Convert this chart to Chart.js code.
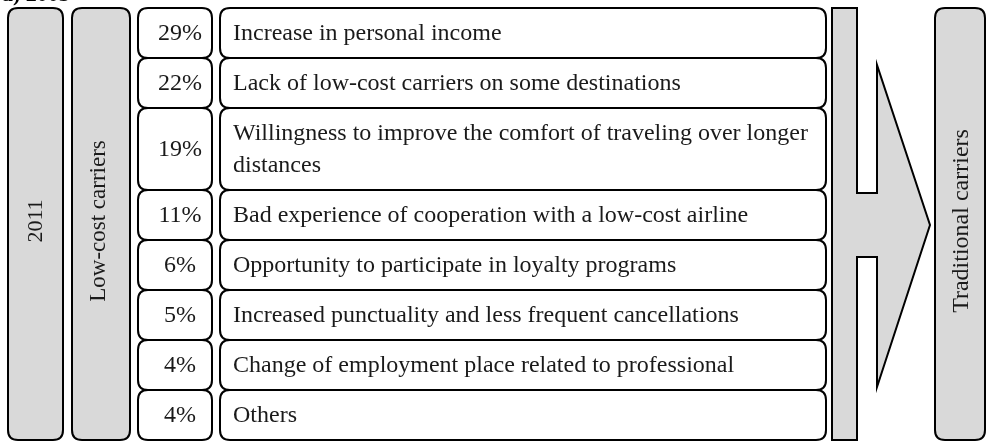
<!DOCTYPE html>
<html lang="en">
<head>
  <meta charset="UTF-8" />
  <title>Reasons for switching from low-cost to traditional carriers</title>
  <script src="https://cdn.jsdelivr.net/npm/chart.js"></script>
  <style>
    body { margin: 0; background: #fff; }
    #wrap { width: 989px; height: 443px; position: relative; }
  </style>
</head>
<body>
  <div id="wrap"><canvas id="diagram"></canvas></div>

  <script>
    // data
    const panelTitle = "a) 2005";
    const yearLabel = "2011";
    const fromLabel = "Low-cost carriers";
    const toLabel = "Traditional carriers";
    const shares = [29, 22, 19, 11, 6, 5, 4, 4];
    const reasons = [
      "Increase in personal income",
      "Lack of low-cost carriers on some destinations",
      "Willingness to improve the comfort of traveling over longer\ndistances",
      "Bad experience of cooperation with a low-cost airline",
      "Opportunity to participate in loyalty programs",
      "Increased punctuality and less frequent cancellations",
      "Change of employment place related to professional",
      "Others"
    ];

    const FONT = '"Liberation Serif", "Times New Roman", serif';
    const GREY = "#d9d9d9";
    const INK = "#1a1a1a";

    function roundBox(ctx, x0, y0, x1, y1, r, fill) {
      ctx.beginPath();
      ctx.moveTo(x0 + r, y0);
      ctx.lineTo(x1 - r, y0);
      ctx.quadraticCurveTo(x1, y0, x1, y0 + r);
      ctx.lineTo(x1, y1 - r);
      ctx.quadraticCurveTo(x1, y1, x1 - r, y1);
      ctx.lineTo(x0 + r, y1);
      ctx.quadraticCurveTo(x0, y1, x0, y1 - r);
      ctx.lineTo(x0, y0 + r);
      ctx.quadraticCurveTo(x0, y0, x0 + r, y0);
      ctx.closePath();
      ctx.fillStyle = fill;
      ctx.fill();
      ctx.stroke();
    }

    function upText(ctx, txt, x, y) {
      ctx.save();
      ctx.translate(x, y);
      ctx.rotate(-Math.PI / 2);
      ctx.textAlign = "center";
      ctx.textBaseline = "middle";
      ctx.fillText(txt, 0, 0);
      ctx.restore();
    }

    const diagramPlugin = {
      id: "diagram",
      afterDraw(chart) {
        const ctx = chart.ctx;
        const X = v => chart.scales.x.getPixelForValue(v);
        const Y = v => chart.scales.y.getPixelForValue(v);
        const top = 8, bottom = 440;

        ctx.save();
        ctx.strokeStyle = "#000";
        ctx.lineWidth = 2;

        // heading, cut off by the top edge
        ctx.font = "bold 22px " + FONT;
        ctx.fillStyle = "#000";
        ctx.textBaseline = "alphabetic";
        ctx.fillText(panelTitle, X(2), Y(1));

        // side columns
        roundBox(ctx, X(8), Y(top), X(63), Y(bottom), 10, GREY);
        roundBox(ctx, X(72), Y(top), X(130), Y(bottom), 10, GREY);
        roundBox(ctx, X(935), Y(top), X(985), Y(bottom), 10, GREY);

        ctx.fillStyle = INK;
        ctx.font = "22px " + FONT;
        upText(ctx, yearLabel, X(36), Y(221));
        ctx.font = "23px " + FONT;
        upText(ctx, fromLabel, X(99), Y(221));
        ctx.font = "24px " + FONT;
        upText(ctx, toLabel, X(962), Y(221));

        // rows
        let y = top;
        shares.forEach((s, i) => {
          const lines = reasons[i].split("\n");
          const h = 50 + (lines.length - 1) * 32;
          roundBox(ctx, X(138), Y(y), X(212), Y(y + h), 10, "#fff");
          roundBox(ctx, X(220), Y(y), X(826), Y(y + h), 10, "#fff");
          const mid = y + h / 2;
          ctx.fillStyle = INK;
          ctx.textBaseline = "middle";
          ctx.textAlign = "center";
          ctx.fillText(s + "%", X(180), Y(mid + 1));
          ctx.textAlign = "left";
          lines.forEach((ln, k) => {
            ctx.fillText(ln, X(233), Y(mid + 1 + (k - (lines.length - 1) / 2) * 32));
          });
          y += h;
        });

        // arrow
        ctx.beginPath();
        [[832, top], [857, top], [857, 193], [877, 193], [877, 65], [930, 225],
         [877, 387], [877, 257], [857, 257], [857, bottom], [832, bottom]]
          .forEach(([px, py], k) => k ? ctx.lineTo(X(px), Y(py)) : ctx.moveTo(X(px), Y(py)));
        ctx.closePath();
        ctx.fillStyle = GREY;
        ctx.fill();
        ctx.stroke();

        ctx.restore();
      }
    };

    new Chart(document.getElementById("diagram"), {
      type: "scatter",
      data: { datasets: [{ data: [] }] },
      options: {
        responsive: true,
        maintainAspectRatio: false,
        animation: false,
        layout: { padding: 0 },
        plugins: { legend: { display: false }, tooltip: { enabled: false } },
        scales: {
          x: { type: "linear", min: 0, max: 989, display: false },
          y: { type: "linear", min: 0, max: 443, reverse: true, display: false }
        }
      },
      plugins: [diagramPlugin]
    });
  </script>
</body>
</html>
